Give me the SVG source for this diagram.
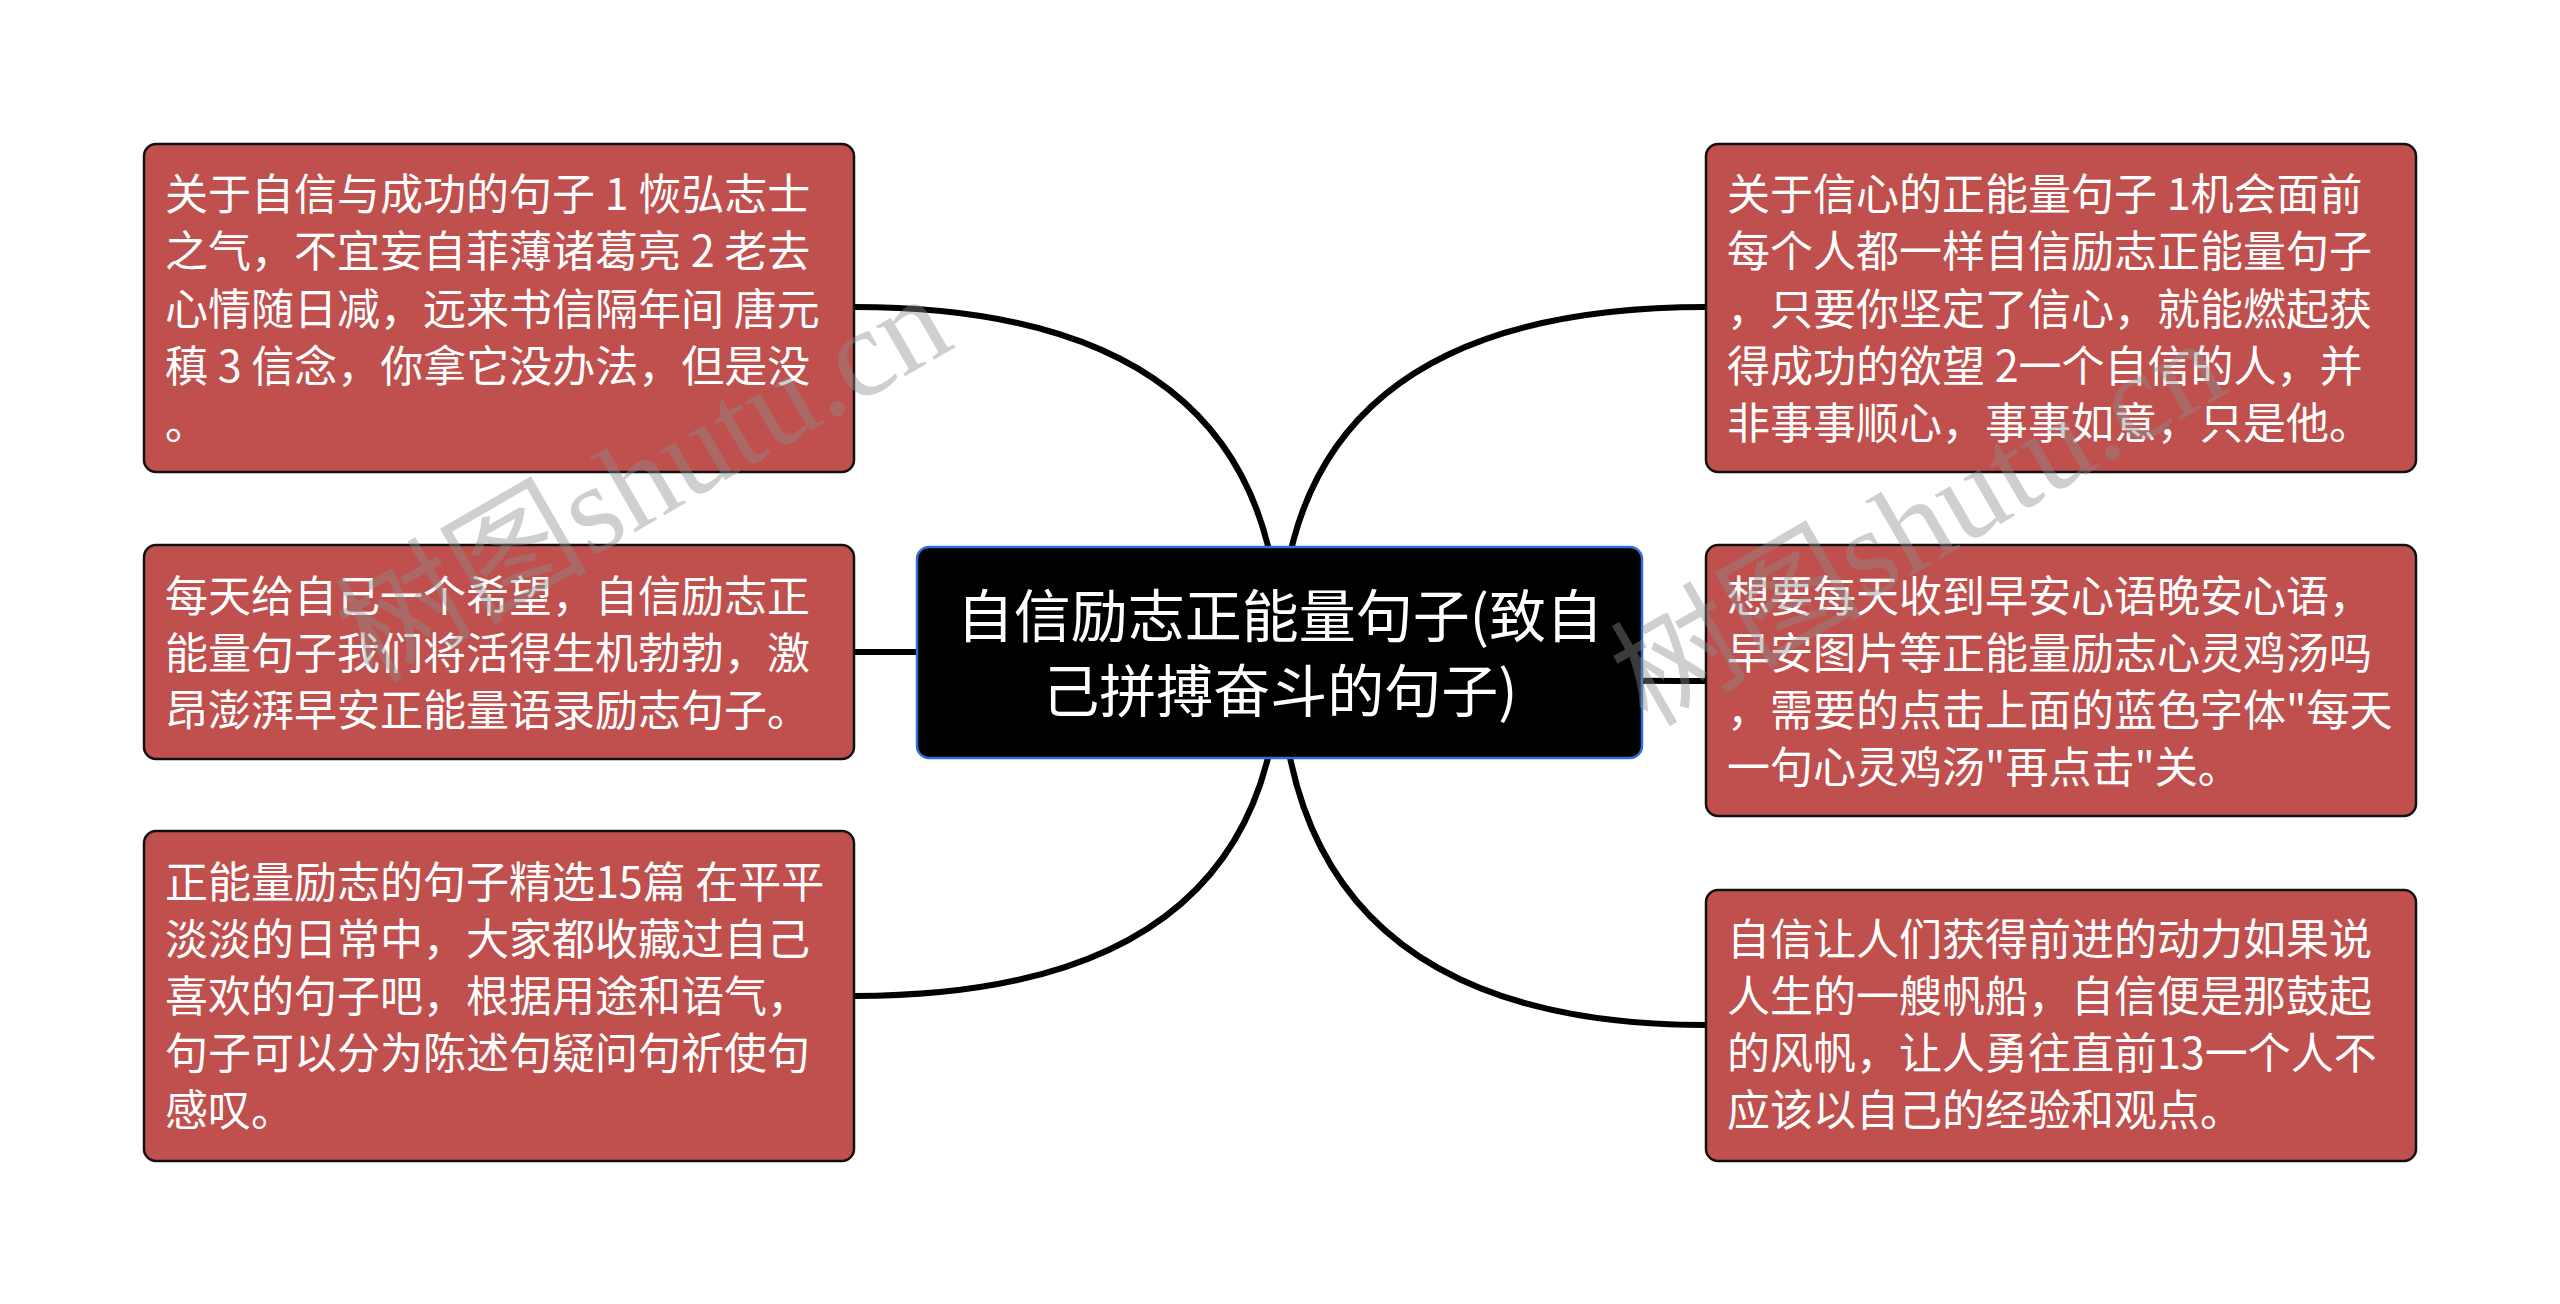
<svg xmlns="http://www.w3.org/2000/svg" width="2560" height="1304" viewBox="0 0 2560 1304">
<style>
.conn{fill:none;stroke:#000;stroke-width:6;stroke-linecap:round}
.box{fill:#c0504d;stroke:#111;stroke-width:2.5}
.root{fill:#000;stroke:#2f6fd6;stroke-width:2.5}
.t{font-family:"Noto Sans CJK SC","Noto Sans",sans-serif;font-size:43px;fill:#fff}
.rt{font-family:"Noto Sans CJK SC","Noto Sans",sans-serif;font-size:57px;fill:#fff;text-anchor:middle}
.wm{font-family:"Liberation Serif","Noto Sans CJK SC",serif;font-size:126px;fill:#8c8c8c;fill-opacity:0.42}
</style>
<rect width="2560" height="1304" fill="#fff"/>
<g id="connectors">
<path class="conn" d="M1280 652 Q1280 307 854 307"/>
<path class="conn" d="M1280 652 L854 652"/>
<path class="conn" d="M1280 652 Q1280 996 854 996"/>
<path class="conn" d="M1280 652 Q1280 307 1706 307"/>
<path class="conn" d="M1280 652 Q1280 681 1706 681"/>
<path class="conn" d="M1280 652 Q1280 1025 1706 1025"/>
</g>
<g id="root">
<rect class="root" x="917" y="547" width="725" height="211" rx="12"/>
<text class="rt" x="1280" y="637">自信励志正能量句子(致自</text>
<text class="rt" x="1280" y="712">己拼搏奋斗的句子)</text>
</g>
<g id="node-left-1">
<rect class="box" x="144" y="144" width="710" height="328" rx="12"/>
<text class="t" x="165" y="210">关于自信与成功的句子 1 恢弘志士</text>
<text class="t" x="165" y="267">之气，不宜妄自菲薄诸葛亮 2 老去</text>
<text class="t" x="165" y="325">心情随日减，远来书信隔年间 唐元</text>
<text class="t" x="165" y="382">稹 3 信念，你拿它没办法，但是没</text>
<text class="t" x="165" y="439">。</text>
</g>
<g id="node-left-2">
<rect class="box" x="144" y="545" width="710" height="214" rx="12"/>
<text class="t" x="165" y="612">每天给自己一个希望，自信励志正</text>
<text class="t" x="165" y="669">能量句子我们将活得生机勃勃，激</text>
<text class="t" x="165" y="726">昂澎湃早安正能量语录励志句子。</text>
</g>
<g id="node-left-3">
<rect class="box" x="144" y="831" width="710" height="330" rx="12"/>
<text class="t" x="165" y="898">正能量励志的句子精选15篇 在平平</text>
<text class="t" x="165" y="955">淡淡的日常中，大家都收藏过自己</text>
<text class="t" x="165" y="1012">喜欢的句子吧，根据用途和语气，</text>
<text class="t" x="165" y="1069">句子可以分为陈述句疑问句祈使句</text>
<text class="t" x="165" y="1126">感叹。</text>
</g>
<g id="node-right-1">
<rect class="box" x="1706" y="144" width="710" height="328" rx="12"/>
<text class="t" x="1727" y="210">关于信心的正能量句子 1机会面前</text>
<text class="t" x="1727" y="267">每个人都一样自信励志正能量句子</text>
<text class="t" x="1727" y="325">，只要你坚定了信心，就能燃起获</text>
<text class="t" x="1727" y="382">得成功的欲望 2一个自信的人，并</text>
<text class="t" x="1727" y="439">非事事顺心，事事如意，只是他。</text>
</g>
<g id="node-right-2">
<rect class="box" x="1706" y="545" width="710" height="271" rx="12"/>
<text class="t" x="1727" y="612">想要每天收到早安心语晚安心语，</text>
<text class="t" x="1727" y="669">早安图片等正能量励志心灵鸡汤吗</text>
<text class="t" x="1727" y="726">，需要的点击上面的蓝色字体"每天</text>
<text class="t" x="1727" y="783">一句心灵鸡汤"再点击"关。</text>
</g>
<g id="node-right-3">
<rect class="box" x="1706" y="890" width="710" height="271" rx="12"/>
<text class="t" x="1727" y="955">自信让人们获得前进的动力如果说</text>
<text class="t" x="1727" y="1012">人生的一艘帆船，自信便是那鼓起</text>
<text class="t" x="1727" y="1069">的风帆，让人勇往直前13一个人不</text>
<text class="t" x="1727" y="1126">应该以自己的经验和观点。</text>
</g>
<g id="watermarks">
<text class="wm" x="372" y="684" transform="rotate(-30 372 684)">树图shutu.cn</text>
<text class="wm" x="1647" y="728" transform="rotate(-30 1647 728)">树图shutu.cn</text>
</g>
</svg>
